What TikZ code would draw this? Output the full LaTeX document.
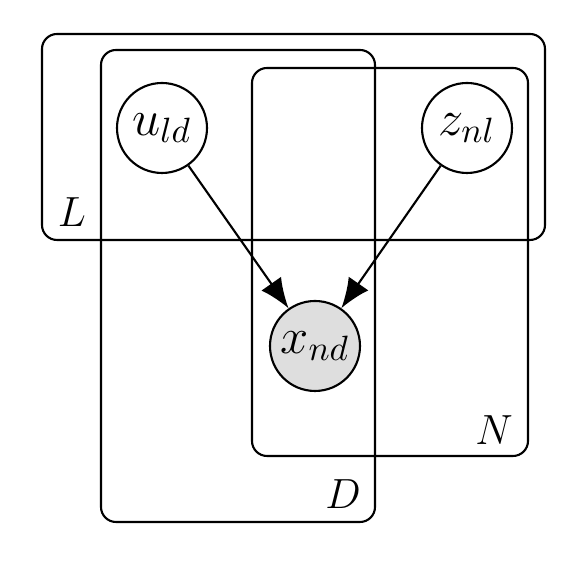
\documentclass[tikz,border=0pt]{standalone}
\usetikzlibrary{arrows.meta}
\tikzset{
    latent/.style={draw,circle,line width=0.6pt,minimum size=0.9cm,inner sep=0pt,font=\Large},
    obs/.style={latent,fill=black!13},
    plate/.style={draw,line width=0.6pt,rounded corners=0.15cm},
    platelab/.style={font=\large},
    edge/.style={line width=0.6pt,-{Latex[length=3mm,width=2.4mm]}}
}
\begin{document}
\begin{tikzpicture}
        \useasboundingbox (0,0) rectangle (5.71,-5.64);
        %% Plates
        \draw[plate] (0.42,-0.34) rectangle (5.45,-2.40);
        \draw[plate] (1.01,-0.50) rectangle (3.75,-5.22);
        \draw[plate] (2.52,-0.68) rectangle (5.28,-4.56);
        \node[platelab] (Llab) at (0.72,-2.12) {$L$};
        \node[platelab] (Dlab) at (3.43,-4.94) {$D$};
        \node[platelab] (Nlab) at (4.94,-4.30) {$N$};
        %% Variables
        \node[latent] (u) at (1.62,-1.28) {$u_{ld}$};
        \node[latent] (z) at (4.67,-1.28) {$z_{nl}$};
        \node[obs] (x) at (3.15,-3.46) {$x_{nd}$};
        %% Edges
        \draw[edge] (u) -- (x);
        \draw[edge] (z) -- (x);
    \end{tikzpicture}
\end{document}
